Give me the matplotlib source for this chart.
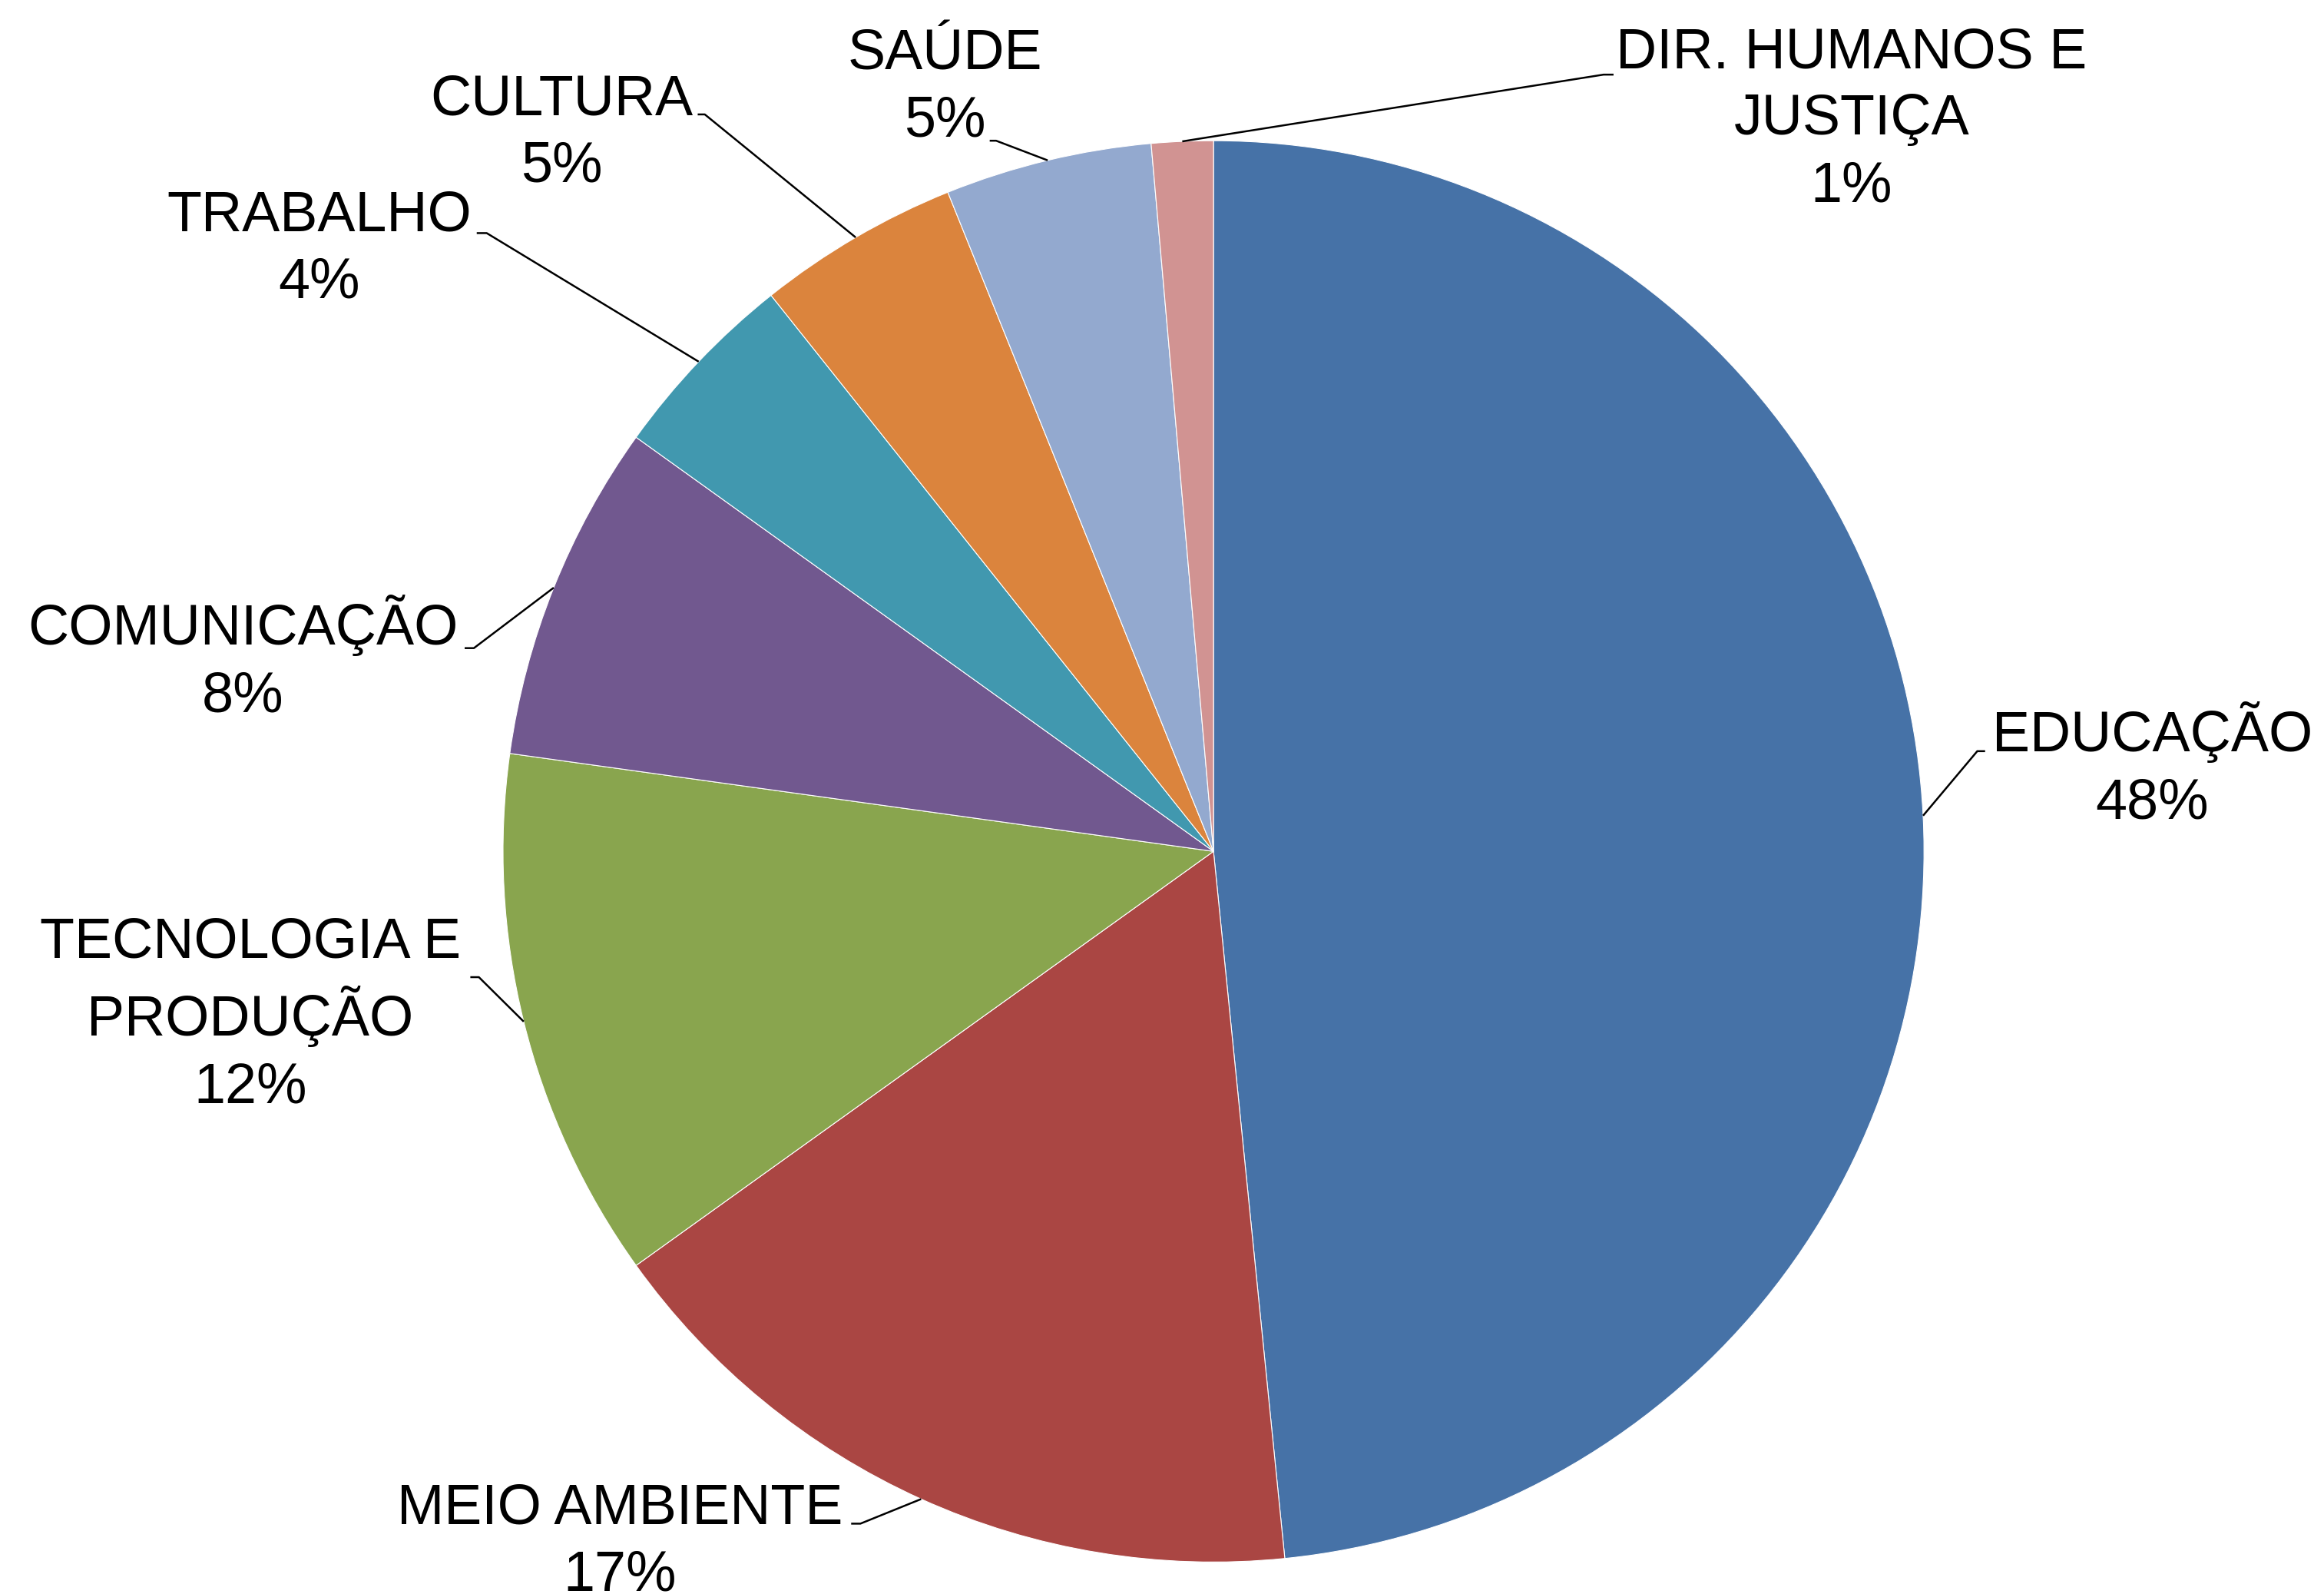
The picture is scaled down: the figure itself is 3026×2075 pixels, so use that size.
import matplotlib
matplotlib.use("Agg")
import matplotlib.pyplot as plt
import numpy as np

plt.rcParams['font.family'] = ['Liberation Sans', 'DejaVu Sans']

# dados (percentuais)
areas = ['EDUCAÇÃO', 'MEIO AMBIENTE', 'TECNOLOGIA E\nPRODUÇÃO', 'COMUNICAÇÃO',
         'TRABALHO', 'CULTURA', 'SAÚDE', 'DIR. HUMANOS E\nJUSTIÇA']
valores = [48.4, 16.7, 12.1, 7.7, 4.4, 4.6, 4.7, 1.4]
cores = ['#4672A7', '#AA4643', '#89A54E', '#71588F',
         '#4198AF', '#DB843D', '#93A9CF', '#D19392']

# posição dos rótulos (x centro, linha de base da última linha) e cotovelo das linhas
pos_rotulo = [(1.321, 0.046), (-0.835, -1.040), (-1.356, -0.354), (-1.366, 0.197),
              (-1.259, 0.779), (-0.918, 0.942), (-0.378, 1.006), (0.898, 0.914)]
cotovelo = [(1.075, 0.141), (-0.497, -0.946), (-1.034, -0.177), (-1.041, 0.286),
            (-1.023, 0.870), (-0.716, 1.037), (-0.306, 1.000), (0.549, 1.093)]
ponta = [(1.086, 0.141), (-0.510, -0.946), (-1.046, -0.177), (-1.054, 0.286),
         (-1.037, 0.870), (-0.726, 1.037), (-0.315, 1.000), (0.563, 1.093)]

fig = plt.figure(figsize=(30.26, 20.75), dpi=100)
ax = fig.add_axes([0, 0, 1, 1])

wedges, _ = ax.pie(valores, colors=cores, startangle=90, counterclock=False,
                   radius=1, wedgeprops=dict(edgecolor='white', linewidth=0.8))

ax.set_aspect('auto')
ax.set_xlim(-1.708, 1.563)
ax.set_ylim(-1.045, 1.198)
ax.axis('off')

total = sum(valores)
for i, w in enumerate(wedges):
    ang = np.deg2rad((w.theta1 + w.theta2) / 2)
    xe, ye = np.cos(ang), np.sin(ang)
    ax.plot([xe, cotovelo[i][0], ponta[i][0]], [ye, cotovelo[i][1], ponta[i][1]],
            color='black', lw=1.8, solid_capstyle='butt')
    pct = round(valores[i] / total * 100)
    ax.text(pos_rotulo[i][0], pos_rotulo[i][1], f"{areas[i]}\n{pct}%",
            ha='center', va='baseline', multialignment='center',
            fontsize=53, linespacing=1.34)

fig.savefig('out.png', dpi=100, facecolor='white')
